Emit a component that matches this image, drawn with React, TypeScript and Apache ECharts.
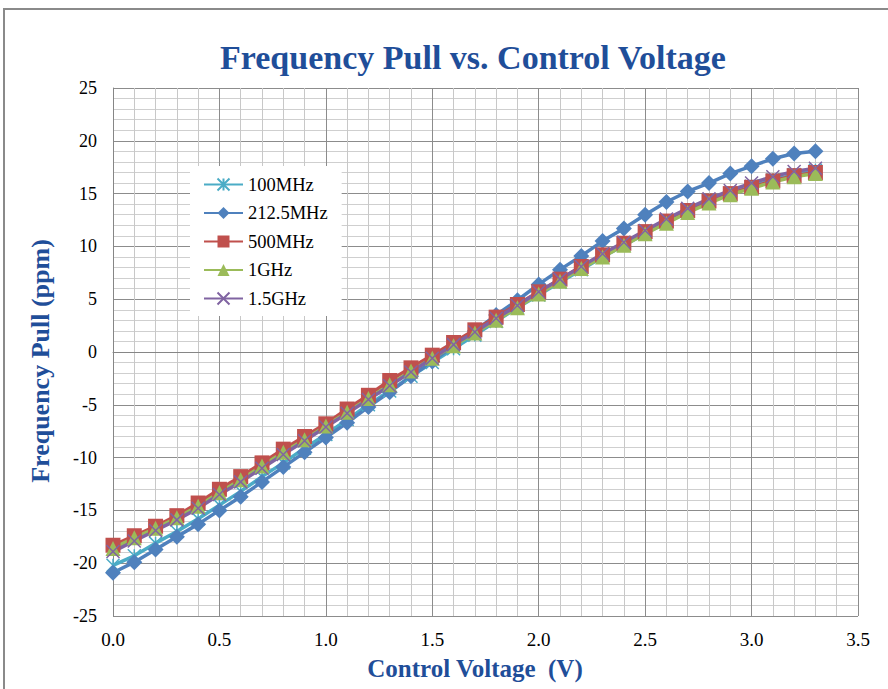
import React, { useEffect, useRef } from "react";
import * as echarts from "echarts";

const xValues = [0.0, 0.1, 0.2, 0.3, 0.4, 0.5, 0.6, 0.7, 0.8, 0.9, 1.0, 1.1, 1.2, 1.3, 1.4, 1.5, 1.6, 1.7, 1.8, 1.9, 2.0, 2.1, 2.2, 2.3, 2.4, 2.5, 2.6, 2.7, 2.8, 2.9, 3.0, 3.1, 3.2, 3.3];

const seriesNames = ["100MHz", "212.5MHz", "500MHz", "1GHz", "1.5GHz"];

const pull100MHz = [-20.2, -19.3, -18.1, -17.0, -15.8, -14.5, -13.2, -11.8, -10.5, -9.1, -7.8, -6.4, -5.0, -3.7, -2.3, -1.0, 0.3, 1.6, 2.9, 4.2, 5.4, 6.6, 7.8, 9.0, 10.1, 11.2, 12.3, 13.3, 14.2, 15.0, 15.7, 16.3, 16.8, 17.2];
const pull212MHz = [-20.9, -19.9, -18.7, -17.5, -16.3, -15.0, -13.7, -12.3, -10.9, -9.5, -8.1, -6.7, -5.2, -3.8, -2.3, -0.9, 0.6, 2.0, 3.5, 4.9, 6.4, 7.8, 9.1, 10.5, 11.7, 13.0, 14.2, 15.2, 16.0, 16.9, 17.6, 18.3, 18.8, 19.0];
const pull500MHz = [-18.3, -17.4, -16.5, -15.5, -14.3, -13.0, -11.8, -10.5, -9.2, -8.0, -6.8, -5.4, -4.1, -2.7, -1.5, -0.3, 0.9, 2.1, 3.3, 4.5, 5.7, 6.9, 8.1, 9.2, 10.3, 11.4, 12.4, 13.4, 14.3, 15.0, 15.6, 16.2, 16.7, 17.0];
const pull1GHz = [-18.6, -17.6, -16.7, -15.7, -14.6, -13.3, -12.1, -10.8, -9.5, -8.3, -7.0, -5.7, -4.4, -3.1, -1.8, -0.6, 0.6, 1.8, 3.0, 4.2, 5.5, 6.7, 7.9, 9.0, 10.1, 11.2, 12.2, 13.2, 14.1, 14.9, 15.5, 16.1, 16.6, 16.9];
const pull1_5GHz = [-18.9, -17.9, -16.9, -15.9, -14.8, -13.5, -12.3, -11.0, -9.7, -8.4, -7.1, -5.8, -4.5, -3.2, -1.9, -0.6, 0.7, 1.9, 3.2, 4.4, 5.7, 6.9, 8.1, 9.3, 10.4, 11.5, 12.6, 13.6, 14.5, 15.3, 16.0, 16.6, 17.1, 17.4];

const seriesValues = [pull100MHz, pull212MHz, pull500MHz, pull1GHz, pull1_5GHz];
const seriesColors = ["#4BACC6", "#4F81BD", "#C0504D", "#9BBB59", "#8064A2"];
const seriesSymbols = [
  "path://M0,0L10,10M10,0L0,10M5,0L5,10",
  "diamond",
  "rect",
  "triangle",
  "path://M0,0L10,10M10,0L0,10",
];
const seriesSymbolSizes = [13, 16, 15, 15, 13];

const titleText = "Frequency Pull vs. Control Voltage";
const xName = "Control Voltage  (V)";
const yName = "Frequency Pull (ppm)";

const FONT = "'Liberation Serif', 'Times New Roman', serif";
const BLUE = "#1F4E99";

export default function App() {
  const ref = useRef<HTMLDivElement>(null);
  useEffect(() => {
    if (!ref.current) return;
    const chart = echarts.init(ref.current, undefined, { renderer: "svg" });
    const series = seriesNames.map((name, i) => {
      const isPath = seriesSymbols[i].startsWith("path://");
      return {
        name,
        type: "line",
        data: xValues.map((x, j) => [x, seriesValues[i][j]]),
        symbol: seriesSymbols[i],
        symbolSize: seriesSymbolSizes[i],
        showAllSymbol: true,
        lineStyle: { color: seriesColors[i], width: 3.5 },
        itemStyle: isPath
          ? { color: seriesColors[i], borderColor: seriesColors[i], borderWidth: 1.5 }
          : { color: seriesColors[i] },
        emphasis: { disabled: true },
      };
    });
    chart.setOption({
      animation: false,
      backgroundColor: "#ffffff",
      graphic: [
        {
          type: "rect",
          shape: { x: 4, y: 9, width: 920, height: 720 },
          style: { fill: "none", stroke: "#8a8a8a", lineWidth: 2 },
          silent: true,
        },
        {
          type: "text",
          x: 473,
          y: 57,
          style: {
            text: titleText,
            font: `bold 34px ${FONT}`,
            fill: BLUE,
            textAlign: "center",
            textVerticalAlign: "middle",
          },
        },
        {
          type: "text",
          x: 475,
          y: 668,
          style: {
            text: xName,
            font: `bold 25px ${FONT}`,
            fill: BLUE,
            textAlign: "center",
            textVerticalAlign: "middle",
          },
        },
        {
          type: "text",
          x: 40,
          y: 361,
          rotation: Math.PI / 2,
          style: {
            text: yName,
            font: `bold 26px ${FONT}`,
            fill: BLUE,
            textAlign: "center",
            textVerticalAlign: "middle",
          },
        },
      ],
      legend: {
        orient: "vertical",
        left: 190,
        top: 166,
        backgroundColor: "#ffffff",
        padding: [9, 14, 8, 13],
        itemWidth: 39,
        itemHeight: 15,
        itemGap: 9.5,
        textStyle: { fontFamily: FONT, fontSize: 18.5, color: "#000" },
        data: seriesNames,
      },
      grid: { left: 113, right: 30, top: 88, bottom: 73, containLabel: false },
      xAxis: {
        type: "value",
        min: 0,
        max: 3.5,
        interval: 0.5,
        axisLine: { show: true, lineStyle: { color: "#868686", width: 1 } },
        axisTick: { show: false },
        axisLabel: {
          fontFamily: FONT,
          fontSize: 19,
          color: "#000",
          margin: 14,
          formatter: (v: number) => v.toFixed(1),
        },
        splitLine: { show: true, lineStyle: { color: "#8c8c8c", width: 1 } },
        minorTick: { show: false, splitNumber: 5 },
        minorSplitLine: { show: true, lineStyle: { color: "#c8c8c8", width: 1 } },
      },
      yAxis: {
        type: "value",
        min: -25,
        max: 25,
        interval: 5,
        axisLine: { show: true, lineStyle: { color: "#868686", width: 1 } },
        axisTick: { show: false },
        axisLabel: { fontFamily: FONT, fontSize: 18, color: "#000", margin: 16 },
        splitLine: { show: true, lineStyle: { color: "#8c8c8c", width: 1 } },
        minorTick: { show: false, splitNumber: 5 },
        minorSplitLine: { show: true, lineStyle: { color: "#cfcfcf", width: 1 } },
      },
      series,
    });
    return () => chart.dispose();
  }, []);
  return (
    <div
      ref={ref}
      style={{ position: "fixed", left: 0, top: 0, width: 888, height: 689, background: "#fff" }}
    />
  );
}
